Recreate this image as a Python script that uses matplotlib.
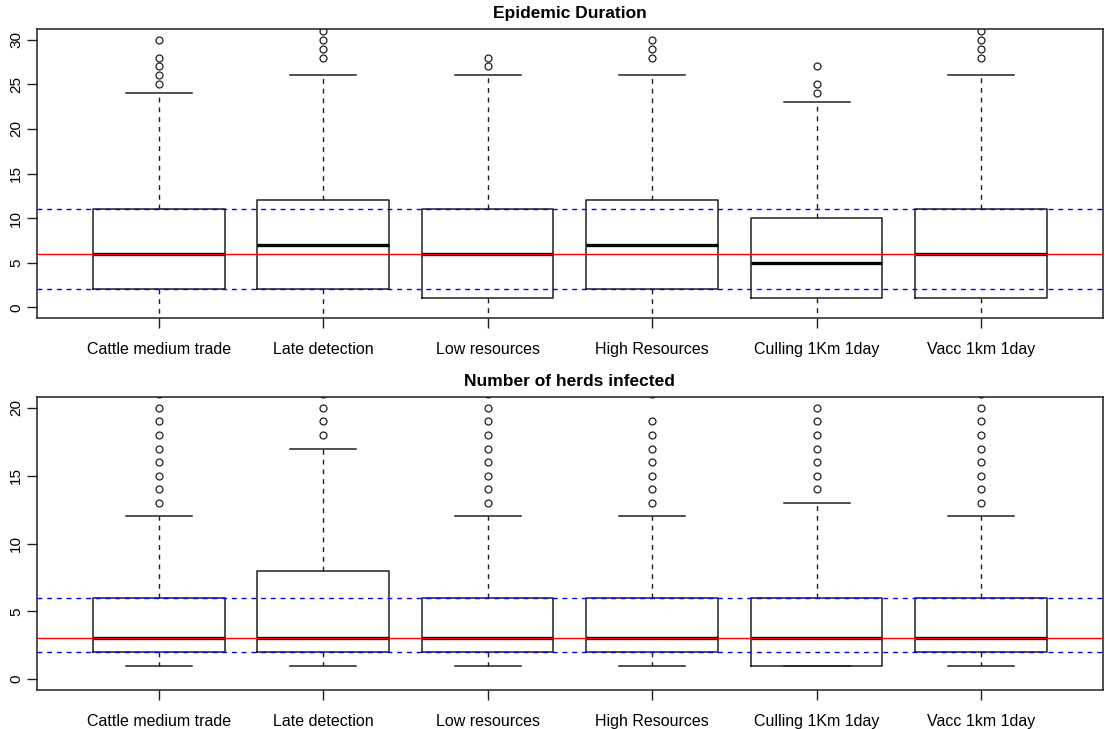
import numpy as np
import matplotlib
matplotlib.use("Agg")
import matplotlib.pyplot as plt

plt.rcParams['font.family'] = ['Liberation Sans', 'DejaVu Sans']

scenarios = ["Cattle medium trade", "Late detection", "Low resources",
             "High Resources", "Culling 1Km 1day", "Vacc 1km 1day"]

# Epidemic duration (days)
dur_low = [-2, -2, -2, -2, -2, -2]
dur_q1 = [2, 2, 1, 2, 1, 1]
dur_med = [6, 7, 6, 7, 5, 6]
dur_q3 = [11, 12, 11, 12, 10, 11]
dur_high = [24, 26, 26, 26, 23, 26]
dur_out = [[25, 26, 27, 28, 30],
           [28, 29, 30, 31],
           [27, 28],
           [28, 29, 30],
           [24, 25, 27],
           [28, 29, 30, 31]]
dur_ref = 6
dur_band = [2, 11]

# Number of herds infected
herd_low = [1, 1, 1, 1, 1, 1]
herd_q1 = [2, 2, 2, 2, 1, 2]
herd_med = [3, 3, 3, 3, 3, 3]
herd_q3 = [6, 8, 6, 6, 6, 6]
herd_high = [12, 17, 12, 12, 13, 12]
herd_out = [[13, 14, 15, 16, 17, 18, 19, 20, 21],
            [18, 19, 20, 21],
            [13, 14, 15, 16, 17, 18, 19, 20, 21],
            [13, 14, 15, 16, 17, 18, 19, 21],
            [14, 15, 16, 17, 18, 19, 20],
            [13, 14, 15, 16, 17, 18, 19, 20, 21]]
herd_ref = 3
herd_band = [2, 6]


def make_stats(lo, q1, med, q3, hi, out):
    return [dict(whislo=lo[i], q1=q1[i], med=med[i], q3=q3[i],
                 whishi=hi[i], fliers=out[i], label=scenarios[i])
            for i in range(len(scenarios))]


def r_boxplot(ax, stats, ymax, yticks, ref, band, title):
    pos = np.arange(1, len(stats) + 1)
    dash = (0, (3.5, 3.5))
    ax.bxp(stats, positions=pos, widths=0.8, showfliers=True,
           boxprops=dict(color="#202020", lw=1.1),
           medianprops=dict(color="black", lw=2.4, solid_capstyle="butt"),
           whiskerprops=dict(color="#202020", lw=1.0, linestyle=dash),
           capprops=dict(color="#202020", lw=1.1),
           capwidths=0.4,
           flierprops=dict(marker="o", markerfacecolor="none",
                           markeredgecolor="#202020", markersize=5,
                           markeredgewidth=0.9, linestyle="none"))
    ax.axhline(ref, color="red", lw=1.0, zorder=5)
    for b in band:
        ax.axhline(b, color="blue", lw=1.0, linestyle=dash, zorder=5)
    n = len(stats)
    # R style axis extension of 4 %
    ax.set_xlim(0.5 - 0.04 * n, n + 0.5 + 0.04 * n)
    ax.set_ylim(-0.04 * ymax, ymax * 1.04)
    ax.set_yticks(yticks)
    ax.set_yticklabels([str(t) for t in yticks], rotation=90, va="center",
                       fontsize=11)
    ax.set_xticks(pos)
    ax.set_xticklabels(scenarios, fontsize=11.5)
    ax.tick_params(axis="both", length=7, width=1.0, color="#202020")
    ax.tick_params(axis="x", pad=10)
    ax.tick_params(axis="y", pad=3)
    for s in ax.spines.values():
        s.set_color("#202020")
        s.set_linewidth(1.1)
    ax.set_title(title, fontsize=12.5, fontweight="bold", pad=8)


fig = plt.figure(figsize=(11.05, 7.29), dpi=100)
ax1 = fig.add_axes([0.0335, 0.5638, 0.9645, 0.3964])
ax2 = fig.add_axes([0.0335, 0.0535, 0.9645, 0.4019])

r_boxplot(ax1, make_stats(dur_low, dur_q1, dur_med, dur_q3, dur_high, dur_out),
          30, [0, 5, 10, 15, 20, 25, 30], dur_ref, dur_band,
          "Epidemic Duration")
r_boxplot(ax2, make_stats(herd_low, herd_q1, herd_med, herd_q3, herd_high,
                          herd_out),
          20, [0, 5, 10, 15, 20], herd_ref, herd_band,
          "Number of herds infected")

fig.savefig("out.png", dpi=100)
